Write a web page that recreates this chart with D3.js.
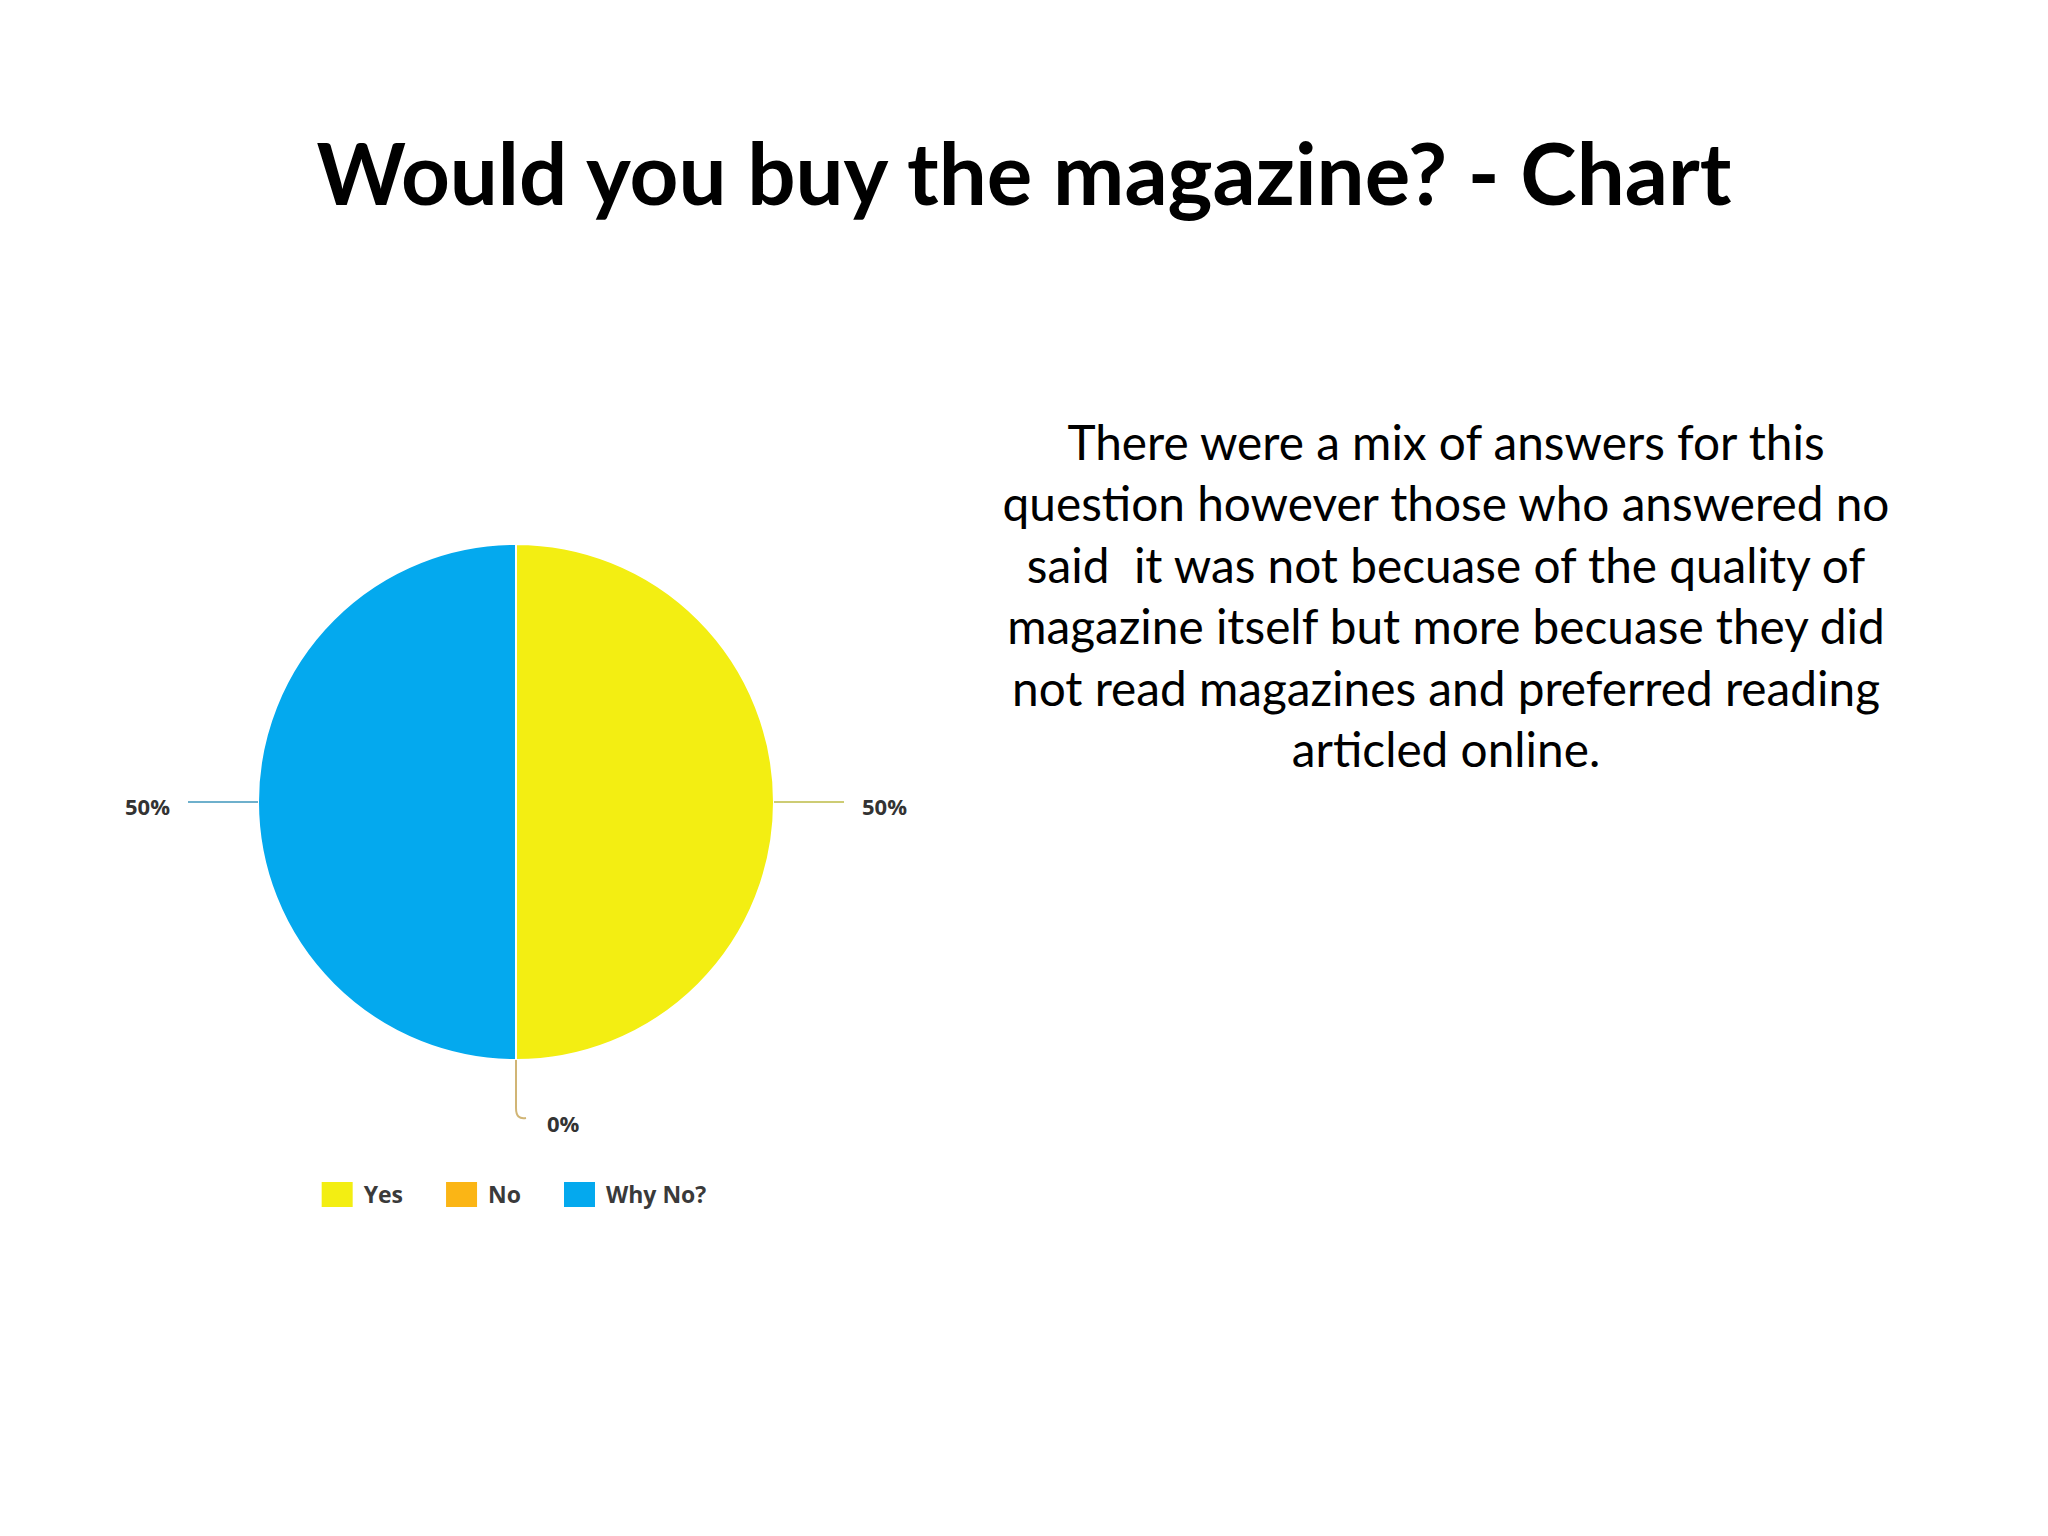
<!DOCTYPE html>
<html>
<head>
<meta charset="utf-8">
<script src="https://cdn.jsdelivr.net/npm/d3@7"></script>
<style>
    html, body { margin: 0; padding: 0; background: #fff; }
    svg { display: block; }
</style>
</head>
<body>
<div id="chart"></div>
<script>

const titleText = "Would you buy the magazine? - Chart";

const categories = ["Yes", "No", "Why No?"];
const values = [50, 0, 50];
const colors = ["#f3ee12", "#fbb515", "#04a9ee"];

const noteLines = [
    "There were a mix of answers for this",
    "question however those who answered no",
    "said  it was not becuase of the quality of",
    "magazine itself but more becuase they did",
    "not read magazines and preferred reading",
    "articled online."
];

const width = 2048;
const height = 1536;

const svg = d3.select("#chart")
    .append("svg")
    .attr("width", width)
    .attr("height", height);

svg.append("rect")
    .attr("width", width)
    .attr("height", height)
    .attr("fill", "#fff");

// title, sized to the width it has in the slide
const title = svg.append("text")
    .attr("x", 1024)
    .attr("y", 205)
    .attr("text-anchor", "middle")
    .style("font-family", "Lato, 'Open Sans', sans-serif")
    .style("font-weight", "bold")
    .style("font-size", "100px")
    .attr("fill", "#000")
    .text(titleText);

const titleW = title.node().getComputedTextLength();
title.style("font-size", (100 * 1415 / titleW) + "px");

// note text on the right
const note = svg.append("g")
    .style("font-family", "Lato, 'Open Sans', sans-serif")
    .style("font-size", "50px")
    .attr("fill", "#000");

const noteText = note.selectAll("text")
    .data(noteLines)
    .enter()
    .append("text")
    .attr("x", 1446)
    .attr("y", function(d, i) { return 460 + i * 61.4; })
    .attr("text-anchor", "middle")
    .style("white-space", "pre")
    .text(function(d) { return d; });

let widest = 0;
noteText.each(function() {
    widest = Math.max(widest, this.getComputedTextLength());
});
note.style("font-size", (50 * 887 / widest) + "px");

// pie
const cx = 516;
const cy = 802;
const r = 258;

const pieData = categories.map(function(c, i) {
    return { name: c, value: values[i], color: colors[i] };
});

const pie = d3.pie()
    .sort(null)
    .value(function(d) { return d.value; });

const arcs = pie(pieData);

const arc = d3.arc()
    .innerRadius(0)
    .outerRadius(r);

const g = svg.append("g")
    .attr("transform", "translate(" + cx + "," + cy + ")");

g.selectAll("path.slice")
    .data(arcs)
    .enter()
    .append("path")
    .attr("class", "slice")
    .attr("d", arc)
    .attr("fill", function(d) { return d.data.color; })
    .attr("stroke", "#fff")
    .attr("stroke-width", 2);

// leader lines + percent labels
const total = d3.sum(values);

function polar(a, rad) {
    return [rad * Math.sin(a), -rad * Math.cos(a)];
}

arcs.forEach(function(d) {
    const a = (d.startAngle + d.endAngle) / 2;
    const lineColor = d3.interpolateRgb(d.data.color, "#8f8f8f")(0.5);
    const label = Math.round(d.value / total * 100) + "%";

    let pathD;
    let tx, ty, anchor;

    if (Math.abs(Math.sin(a)) > 0.5) {
        const p0 = polar(a, r);
        const p1 = polar(a, r + 70);
        pathD = "M" + p0 + "L" + p1;
        const pt = polar(a, r + 88);
        tx = pt[0];
        ty = pt[1] + 5;
        anchor = Math.sin(a) > 0 ? "start" : "end";
    } else {
        const p0 = polar(a, r);
        const p1 = polar(a, r + 48);
        const pc = polar(a, r + 60);
        const p2 = [pc[0] + 10, pc[1] - 2];
        pathD = "M" + p0 + "L" + p1 + "Q" + pc + " " + p2;
        tx = pc[0] + 31;
        ty = pc[1] + 4;
        anchor = "start";
    }

    g.append("path")
        .attr("d", pathD)
        .attr("fill", "none")
        .attr("stroke", lineColor)
        .attr("stroke-width", 2)
        .attr("opacity", 0.8);

    g.append("text")
        .attr("x", tx)
        .attr("y", ty)
        .attr("dy", "0.35em")
        .attr("text-anchor", anchor)
        .style("font-family", "'Open Sans', sans-serif")
        .style("font-weight", "bold")
        .style("font-size", "22px")
        .attr("fill", "#333")
        .text(label);
});

// legend
const legend = svg.append("g");

const items = legend.selectAll("g")
    .data(pieData)
    .enter()
    .append("g");

items.append("rect")
    .attr("y", 1182)
    .attr("width", 31)
    .attr("height", 25)
    .attr("fill", function(d) { return d.color; });

items.append("text")
    .attr("x", 42)
    .attr("y", 1195)
    .attr("dy", "0.35em")
    .style("font-family", "'Open Sans', sans-serif")
    .style("font-weight", "bold")
    .style("font-size", "23px")
    .attr("fill", "#3a3a3a")
    .text(function(d) { return d.name; });

let xPos = 0;
const offsets = [];
items.each(function() {
    const tw = d3.select(this).select("text").node().getComputedTextLength();
    offsets.push(xPos);
    xPos += 42 + tw + 43;
});
const legendW = xPos - 43;

items.attr("transform", function(d, i) {
    return "translate(" + offsets[i] + ",0)";
});
legend.attr("transform", "translate(" + (cx - 2 - legendW / 2) + ",0)");

</script>
</body>
</html>
